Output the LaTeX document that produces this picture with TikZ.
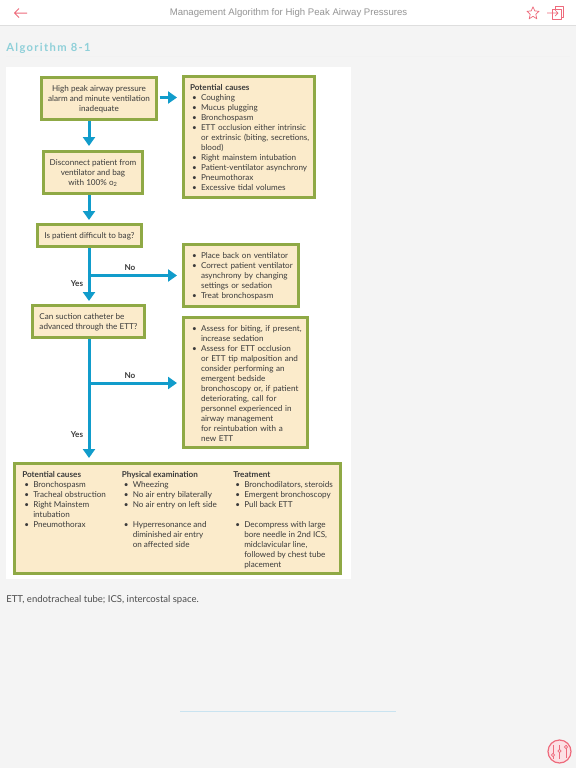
\documentclass[tikz,border=0pt]{standalone}
\usepackage{fontspec}
\setmainfont{Lato}
\newfontfamily\uifont{Liberation Sans}
\usetikzlibrary{arrows.meta,positioning,calc}
\newlength\ux \setlength\ux{0.75pt}
\newlength\lead \setlength\lead{0pt}
\definecolor{pagebg}{HTML}{F4F4F4}
\definecolor{rulegray}{HTML}{DEDEDE}
\definecolor{flowblue}{HTML}{119CCB}
\definecolor{boxgreen}{HTML}{8FA945}
\definecolor{boxfill}{HTML}{FBEBCB}
\definecolor{inktext}{HTML}{3B3B3B}
\definecolor{teal}{HTML}{8FD0D9}
\definecolor{pinkred}{HTML}{EE6B7C}
\definecolor{faintblue}{HTML}{C9E3F0}
\newcommand{\bl}{\hspace*{\lead}\makebox[11\ux][l]{\hspace*{2.2\ux}•}}
\newcommand{\cn}{\hspace*{\lead}\hspace*{11\ux}}
\newcommand{\tp}{\rule{0pt}{5.6pt}}
\tikzset{
  x=0.75pt,y=-0.75pt,
  flowbox/.style={draw=boxgreen,fill=boxfill,line width=3\ux,outer sep=0pt,inner sep=0pt,
     text=inktext,font=\fontsize{6.1}{7.5}\selectfont},
  coltext/.style={anchor=north west,inner sep=0pt,align=left,text=inktext,font=\fontsize{6.1}{7.5}\selectfont},
  flowlabel/.style={text=inktext,inner sep=0pt,font=\fontsize{6.1}{7.5}\selectfont\bfseries},
  flowarrow/.style={draw=flowblue,line width=3\ux,shorten <=1.5\ux,
     -{Triangle[length=6.75pt,width=9pt]}},
  icon/.style={draw=pinkred,line width=0.7\ux,line join=round},
  leadtwo/.style={execute at begin node={\setlength\lead{2\ux}}},
  leadthree/.style={execute at begin node={\setlength\lead{3\ux}}},
}
\begin{document}
\begin{tikzpicture}
\useasboundingbox (0,0) rectangle (576,768);
\fill[pagebg] (0,0) rectangle (576,768);
\fill[white] (0,0) rectangle (576,25);
\draw[rulegray,line width=1\ux] (0,25) -- (576,25);
\node[inner sep=0pt,text=black!42,font=\uifont\fontsize{7.2}{9}\selectfont] (title) at (288.5,13) {Management Algorithm for High Peak Airway Pressures};
\node[inner sep=0pt,anchor=west,text=teal,font=\fontsize{8.4}{10}\selectfont\bfseries] (algo) at (6,48) {\addfontfeature{LetterSpace=12}Algorithm 8-1};
\draw[black!5,line width=0.8\ux] (6,56.5) -- (570,56.5);
\fill[white] (6,67) rectangle (351,579);

% boxes
\node[flowbox,minimum width=115\ux,minimum height=42\ux,align=center] (alarm) at (99,98.5)
  {\tp High peak airway pressure\\alarm and minute ventilation\\inadequate};
\node[flowbox,leadthree,minimum width=131\ux,minimum height=121\ux,align=left,text width=124\ux] (causes) at (249,137)
  {\tp\hspace*{\lead}\textbf{Potential causes}\\\bl Coughing\\\bl Mucus plugging\\\bl Bronchospasm\\\bl ETT occlusion either intrinsic\\\cn or extrinsic (biting, secretions,\\\cn blood)\\\bl Right mainstem intubation\\\bl Patient-ventilator asynchrony\\\bl Pneumothorax\\\bl Excessive tidal volumes};
\node[flowbox,minimum width=99\ux,minimum height=42\ux,align=center] (disconnect) at (93,172.5)
  {\tp Disconnect patient from\\ventilator and bag\\with 100\% o\textsubscript{2}};
\node[flowbox,minimum width=104\ux,minimum height=22\ux,align=center] (bag) at (89.5,235.5)
  {\tp Is patient difficult to bag?};
\node[flowbox,leadtwo,minimum width=115\ux,minimum height=62\ux,align=left,text width=106\ux] (place) at (241,275.5)
  {\tp\bl Place back on ventilator\\\bl Correct patient ventilator\\\cn asynchrony by changing\\\cn settings or sedation\\\bl Treat bronchospasm};
\node[flowbox,minimum width=112\ux,minimum height=32\ux,align=left] (suction) at (88.5,321.5)
  {\tp Can suction catheter be\\advanced through the ETT?};
\node[flowbox,leadtwo,minimum width=124\ux,minimum height=130\ux,align=left,text width=115\ux] (assess) at (245.5,382.5)
  {\tp\bl Assess for biting, if present,\\\cn increase sedation\\\bl Assess for ETT occlusion\\\cn or ETT tip malposition and\\\cn consider performing an\\\cn emergent bedside\\\cn bronchoscopy or, if patient\\\cn deteriorating, call for\\\cn personnel experienced in\\\cn airway management\\\cn for reintubation with a\\\cn new ETT};
\node[flowbox,minimum width=326\ux,minimum height=110\ux] (bottom) at (177.5,518.5) {};
\node[coltext] (colA) at (22,471)
  {\textbf{Potential causes}\\\bl Bronchospasm\\\bl Tracheal obstruction\\\bl Right Mainstem\\\cn intubation\\\bl Pneumothorax};
\node[coltext] (colB) at (121.5,471)
  {\textbf{Physical examination}\\\bl Wheezing\\\bl No air entry bilaterally\\\bl No air entry on left side\\\mbox{}\\\bl Hyperresonance and\\\cn diminished air entry\\\cn on affected side};
\node[coltext] (colC) at (233,471)
  {\textbf{Treatment}\\\bl Bronchodilators, steroids\\\bl Emergent bronchoscopy\\\bl Pull back ETT\\\mbox{}\\\bl Decompress with large\\\cn bore needle in 2nd ICS,\\\cn midclavicular line,\\\cn followed by chest tube\\\cn placement};

% connectors
\coordinate (trunk) at (89,0);
\coordinate (alarmout) at (158,97.5);
\draw[flowarrow,shorten >=6.5\ux] (alarmout) -- (alarmout -| causes.west);
\draw[flowarrow,shorten >=5.5\ux] (trunk |- alarm.south) -- (trunk |- disconnect.north);
\draw[flowarrow,shorten >=4.5\ux] (trunk |- disconnect.south) -- (trunk |- bag.north);
\draw[flowarrow,shorten >=4.5\ux] (trunk |- bag.south) -- (trunk |- suction.north);
\draw[flowarrow,shorten >=5.5\ux] (trunk |- suction.south) -- (trunk |- bottom.north);
\draw[flowarrow,shorten <=0pt,shorten >=6.5\ux] (trunk |- place.west) -- (place.west);
\coordinate (assessin) at (182,383);
\draw[flowarrow,shorten <=0pt,shorten >=5\ux] (trunk |- assessin) -- (assessin);
\node[flowlabel] (no1) at (130,267.5) {No};
\node[flowlabel] (yes1) at (77,283.5) {Yes};
\node[flowlabel] (no2) at (130,375.5) {No};
\node[flowlabel] (yes2) at (77,434.5) {Yes};

\node[anchor=west,inner sep=0pt,text=black!70,font=\fontsize{7.15}{9}\selectfont] (foot) at (6,599.5) {ETT, endotracheal tube; ICS, intercostal space.};
\draw[faintblue,line width=1\ux] (180,711.5) -- (396,711.5);

% icons
\draw[icon,line width=1\ux] (27,13) -- (14.5,13) (19,8.5) -- (14.5,13) -- (19,17.5);
\draw[icon] (533,6.8) -- (534.8,10.9) -- (539,11.3) -- (535.8,14.3) -- (536.8,18.8) -- (533,16.3) -- (529.2,18.8) -- (530.2,14.3) -- (527,11.3) -- (531.2,10.9) -- cycle;
\draw[icon] (552,9) rectangle (561,19.5);
\draw[icon] (555,9) -- (555,6.5) -- (563.5,6.5) -- (563.5,17) -- (561,17);
\draw[icon] (547,13) -- (558,13) (555,10) -- (558,13) -- (555,16);
\fill[pinkred!20] (559.5,751.5) circle (11.5);
\draw[pinkred,line width=1.2\ux] (559.5,751.5) circle (11.5);
\draw[icon] (553,745) -- (553,759) (559.5,745) -- (559.5,759) (566,745) -- (566,758);
\fill[pinkred!20,draw=pinkred,line width=0.6\ux] (553,755) circle (1.6) (559.5,751) circle (1.6) (566,747) circle (1.6);
\end{tikzpicture}
\end{document}
